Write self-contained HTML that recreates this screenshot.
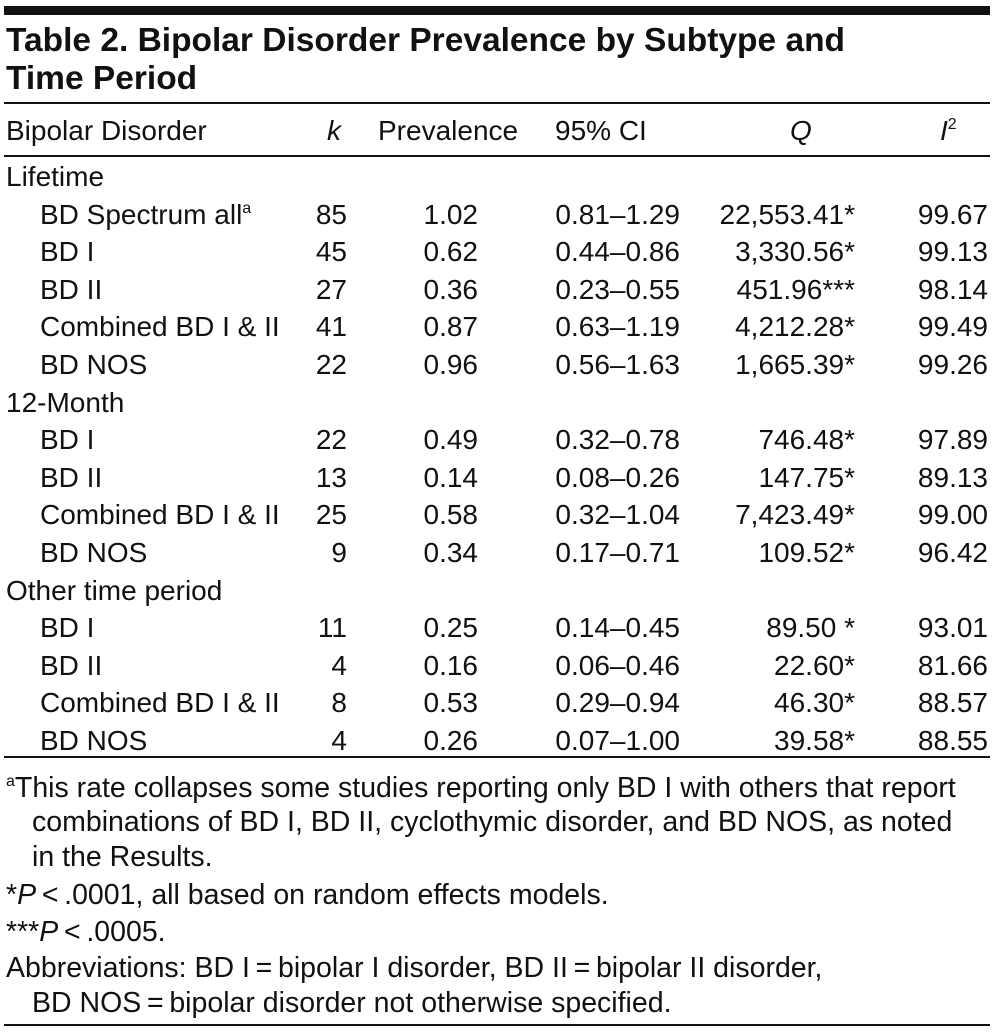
<!DOCTYPE html>
<html><head><meta charset="utf-8">
<style>
body{margin:0;background:#fff;}
#t{position:relative;width:997px;height:1034px;font-family:"Liberation Sans",sans-serif;color:#111;overflow:hidden;}
.r{position:absolute;height:34px;line-height:34px;font-size:28px;white-space:nowrap;}
.rt{text-align:right;}
.rule{position:absolute;left:4px;width:986px;background:#111;}
.ti{position:absolute;left:6px;font-weight:bold;font-size:33.5px;line-height:38px;}
sup{font-size:16px;line-height:0;vertical-align:11px;}
.fn{position:absolute;left:6px;font-size:28.5px;line-height:34px;white-space:nowrap;}
</style></head><body>
<div id="t">
<div class="rule" style="top:6px;height:9px"></div>
<div class="ti" style="top:22px">Table 2. Bipolar Disorder Prevalence by Subtype and<br>Time Period</div>
<div class="rule" style="top:102px;height:2px"></div>
<div class="r" style="left:6px;top:114px">Bipolar Disorder</div>
<div class="r" style="left:327px;top:114px;font-style:italic">k</div>
<div class="r" style="left:378px;top:114px">Prevalence</div>
<div class="r" style="left:555px;top:114px">95% CI</div>
<div class="r" style="left:790px;top:114px;font-style:italic">Q</div>
<div class="r" style="left:940px;top:114px"><i>I</i><sup>2</sup></div>
<div class="rule" style="top:155px;height:2px"></div>
<div id="rows"></div>
<div class="rule" style="top:756px;height:2px"></div>
<div class="fn" style="top:771px"><sup>a</sup>This rate collapses some studies reporting only BD I with others that report</div>
<div class="fn" style="top:805px;left:32px">combinations of BD I, BD II, cyclothymic disorder, and BD NOS, as noted</div>
<div class="fn" style="top:840px;left:32px">in the Results.</div>
<div class="fn" style="top:878px">*<i>P</i>&thinsp;&lt;&thinsp;.0001, all based on random effects models.</div>
<div class="fn" style="top:915px">***<i>P</i>&thinsp;&lt;&thinsp;.0005.</div>
<div class="fn" style="top:951px">Abbreviations: BD I&thinsp;=&thinsp;bipolar I disorder, BD II&thinsp;=&thinsp;bipolar II disorder,</div>
<div class="fn" style="top:986px;left:32px">BD NOS&thinsp;=&thinsp;bipolar disorder not otherwise specified.</div>
<div class="rule" style="top:1024px;height:2px"></div>
</div>
<script>
const labels=["Lifetime","BD Spectrum all","BD I","BD II","Combined BD I & II","BD NOS","12-Month","BD I","BD II","Combined BD I & II","BD NOS","Other time period","BD I","BD II","Combined BD I & II","BD NOS"];
const kVals=["","85","45","27","41","22","","22","13","25","9","","11","4","8","4"];
const prevVals=["","1.02","0.62","0.36","0.87","0.96","","0.49","0.14","0.58","0.34","","0.25","0.16","0.53","0.26"];
const ciVals=["","0.81–1.29","0.44–0.86","0.23–0.55","0.63–1.19","0.56–1.63","","0.32–0.78","0.08–0.26","0.32–1.04","0.17–0.71","","0.14–0.45","0.06–0.46","0.29–0.94","0.07–1.00"];
const qVals=["","22,553.41*","3,330.56*","451.96***","4,212.28*","1,665.39*","","746.48*","147.75*","7,423.49*","109.52*","","89.50 *","22.60*","46.30*","39.58*"];
const i2Vals=["","99.67","99.13","98.14","99.49","99.26","","97.89","89.13","99.00","96.42","","93.01","81.66","88.57","88.55"];
const host=document.getElementById('rows');
function cell(txt,style,cls){const d=document.createElement('div');d.className='r '+(cls||'');d.style.cssText=style;d.innerHTML=txt;host.appendChild(d);return d;}
labels.forEach((lab,i)=>{
  const top=160+i*37.6;
  const group=kVals[i]==="";
  let t=lab.replace('&','&amp;');
  if(lab==="BD Spectrum all")t+='<sup>a</sup>';
  let el=cell(t,`left:${group?6:40}px;top:${top}px`);
  
  
  if(group)return;
  el=cell(kVals[i],`right:${997-347}px;top:${top}px`,'rt');
  
  
  el=cell(prevVals[i],`right:${997-478}px;top:${top}px`,'rt');
  
  
  el=cell(ciVals[i],`right:${997-680}px;top:${top}px`,'rt');
  
  
  el=cell(qVals[i],`right:${997-855}px;top:${top}px`,'rt');
  
  
  el=cell(i2Vals[i],`right:${997-988}px;top:${top}px`,'rt');
  
  
});
</script>
</body></html>
